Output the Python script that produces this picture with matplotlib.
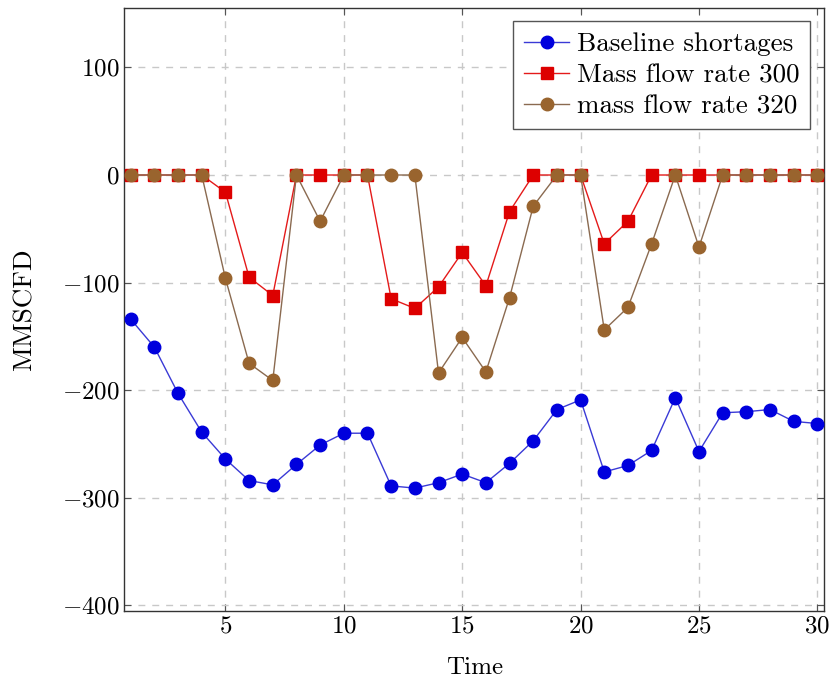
import matplotlib
matplotlib.use("Agg")
import matplotlib.pyplot as plt

plt.rcParams['font.family'] = ['cmr10', 'DejaVu Serif']
plt.rcParams['mathtext.fontset'] = 'cm'
plt.rcParams['axes.formatter.use_mathtext'] = True
plt.rcParams['axes.unicode_minus'] = True

time = list(range(1, 31))
baseline = [-134, -160, -203, -239, -264, -284, -288, -269, -251, -240,
            -240, -289, -291, -286, -278, -286, -268, -247, -218, -209,
            -276, -270, -256, -207, -257, -221, -220, -218, -229, -231]
mass300 = [0, 0, 0, 0, -16, -95, -112, 0, 0, 0,
           0, -115, -124, -104, -72, -103, -34, 0, 0, 0,
           -64, -43, 0, 0, 0, 0, 0, 0, 0, 0]
mass320 = [0, 0, 0, 0, -96, -175, -191, 0, -43, 0,
           0, 0, 0, -184, -151, -183, -114, -29, 0, 0,
           -144, -123, -64, 0, -67, 0, 0, 0, 0, 0]
xticks = [5, 10, 15, 20, 25, 30]
yticks = [-400, -300, -200, -100, 0, 100]

fig = plt.figure(figsize=(8.32, 6.82), dpi=100)
ax = fig.add_axes([0.1494, 0.1045, 0.8410, 0.8842])

ax.plot(time, baseline, color='#3a3ad6', lw=1.0, marker='o', ms=9,
        mfc='#0000dd', mec='#0000dd', label='Baseline shortages', zorder=3)
ax.plot(time, mass300, color='#e41a1a', lw=1.0, marker='s', ms=9,
        mfc='#dd0000', mec='#dd0000', label='Mass flow rate 300', zorder=3)
ax.plot(time, mass320, color='#8a6a50', lw=1.0, marker='o', ms=9,
        mfc='#99642e', mec='#99642e', label='mass flow rate 320', zorder=4)

ax.set_xlim(0.73, 30.28)
ax.set_ylim(-405, 155.5)
ax.set_xticks(xticks)
ax.set_yticks(yticks)
ax.grid(True, color='#c8c8c8', ls=(0, (5, 5)), lw=1.0)
ax.tick_params(direction='in', top=True, right=True, labelsize=18, length=5,
               color='#555555')
for s in ax.spines.values():
    s.set_color('#333333')
    s.set_linewidth(1.0)

ax.set_xlabel('Time', fontsize=18, labelpad=14)
ax.set_ylabel('MMSCFD', fontsize=19.5, labelpad=18)

leg = ax.legend(loc='upper right', fontsize=19.5, frameon=True, fancybox=False,
                edgecolor='#555555', framealpha=1, borderpad=0.4,
                handlelength=1.65, handletextpad=0.3, labelspacing=0.27,
                borderaxespad=0.5)
leg.get_frame().set_linewidth(1.0)

fig.savefig('out.png', dpi=100)
